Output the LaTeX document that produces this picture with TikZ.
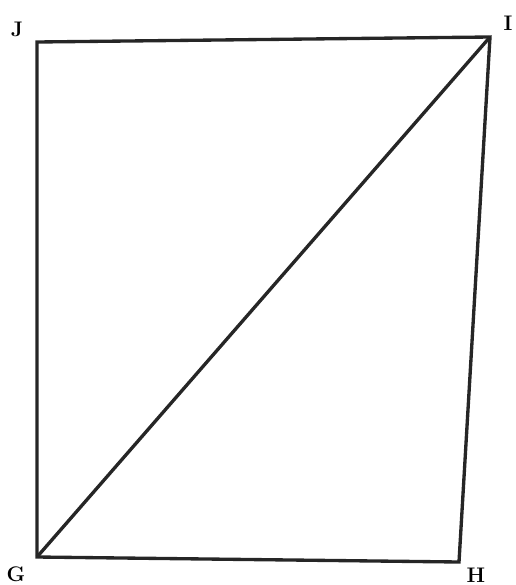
\documentclass[tikz,border=0pt]{standalone}
\tikzset{
  vlabel/.style={font=\large\bfseries, inner sep=0pt},
  side/.style={line width=1.9pt, line join=miter, black!85}
}
\begin{document}
\begin{tikzpicture}[x=0.02cm, y=-0.02cm]
        % Ramka
        \useasboundingbox (0,0) rectangle (515,585);
        
        % Wierzchołki
        \coordinate (G) at (37,557);
        \coordinate (H) at (459,562);
        \coordinate (I) at (490,37);
        \coordinate (J) at (37,42);
        
        % Boki i przekątna
        \draw[side] (G) -- (H) -- (I) -- (J) -- cycle;
        \draw[side] (G) -- (I);
        
        % Etykiety
        \node[vlabel] (lJ) at (17,29) {J};
        \node[vlabel] (lI) at (508,23) {I};
        \node[vlabel] (lG) at (16,574) {G};
        \node[vlabel] (lH) at (476,575) {H};
    \end{tikzpicture}
\end{document}
